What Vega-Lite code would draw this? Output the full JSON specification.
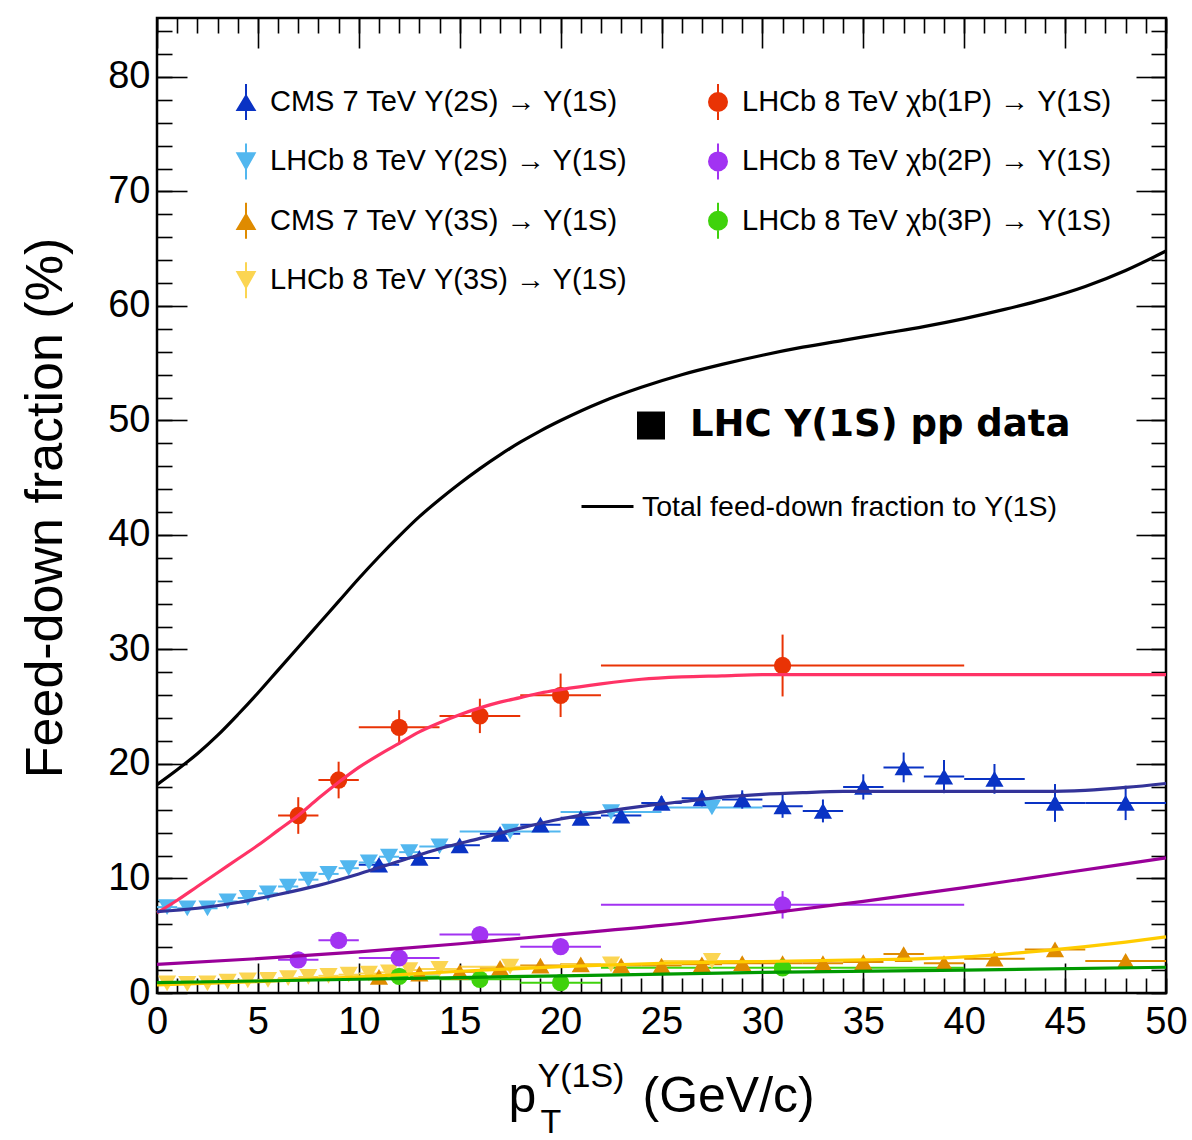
{
 "$schema": "https://vega.github.io/schema/vega-lite/v6.json",
 "width": 1009, "height": 975,
 "autosize": {"type": "none"},
 "padding": {"left": 157, "top": 18, "right": 26, "bottom": 147},
 "background": "white",
 "config": {
  "view": {"stroke": "black", "strokeWidth": 2.5},
  "axis": {"domain": false, "grid": false, "tickColor": "black", "tickWidth": 1.6, "labelColor": "black", "titleColor": "black", "labelFont": "Liberation Sans", "titleFont": "Liberation Sans", "labelFlush": false, "labelOverlap": false, "labelBound": false, "titleFontWeight": "normal"}
 },
 "datasets": {
  "pts": [
   {"s":"CMS 7 TeV Υ(2S) → Υ(1S)","pt":11,"f":11.2,"lo":10,"hi":12,"flo":10.8,"fhi":11.6},
   {"s":"CMS 7 TeV Υ(2S) → Υ(1S)","pt":13,"f":11.8,"lo":12,"hi":14,"flo":11.4,"fhi":12.2},
   {"s":"CMS 7 TeV Υ(2S) → Υ(1S)","pt":15,"f":12.9,"lo":14,"hi":16,"flo":12.5,"fhi":13.3},
   {"s":"CMS 7 TeV Υ(2S) → Υ(1S)","pt":17,"f":13.9,"lo":16,"hi":18,"flo":13.5,"fhi":14.3},
   {"s":"CMS 7 TeV Υ(2S) → Υ(1S)","pt":19,"f":14.7,"lo":18,"hi":20,"flo":14.2,"fhi":15.2},
   {"s":"CMS 7 TeV Υ(2S) → Υ(1S)","pt":21,"f":15.3,"lo":20,"hi":22,"flo":14.8,"fhi":15.8},
   {"s":"CMS 7 TeV Υ(2S) → Υ(1S)","pt":23,"f":15.5,"lo":22,"hi":24,"flo":14.9,"fhi":16.1},
   {"s":"CMS 7 TeV Υ(2S) → Υ(1S)","pt":25,"f":16.6,"lo":24,"hi":26,"flo":16.0,"fhi":17.2},
   {"s":"CMS 7 TeV Υ(2S) → Υ(1S)","pt":27,"f":17.0,"lo":26,"hi":28,"flo":16.3,"fhi":17.7},
   {"s":"CMS 7 TeV Υ(2S) → Υ(1S)","pt":29,"f":16.9,"lo":28,"hi":30,"flo":16.1,"fhi":17.7},
   {"s":"CMS 7 TeV Υ(2S) → Υ(1S)","pt":31,"f":16.3,"lo":30,"hi":32,"flo":15.3,"fhi":17.3},
   {"s":"CMS 7 TeV Υ(2S) → Υ(1S)","pt":33,"f":15.9,"lo":32,"hi":34,"flo":14.9,"fhi":16.9},
   {"s":"CMS 7 TeV Υ(2S) → Υ(1S)","pt":35,"f":18.0,"lo":34,"hi":36,"flo":16.9,"fhi":19.1},
   {"s":"CMS 7 TeV Υ(2S) → Υ(1S)","pt":37,"f":19.7,"lo":36,"hi":38,"flo":18.4,"fhi":21.0},
   {"s":"CMS 7 TeV Υ(2S) → Υ(1S)","pt":39,"f":18.9,"lo":38,"hi":40,"flo":17.45,"fhi":20.35},
   {"s":"CMS 7 TeV Υ(2S) → Υ(1S)","pt":41.5,"f":18.7,"lo":40,"hi":43,"flo":17.4,"fhi":20.0},
   {"s":"CMS 7 TeV Υ(2S) → Υ(1S)","pt":44.5,"f":16.6,"lo":43,"hi":46,"flo":14.95,"fhi":18.25},
   {"s":"CMS 7 TeV Υ(2S) → Υ(1S)","pt":48,"f":16.6,"lo":46,"hi":50,"flo":15.1,"fhi":18.1},
   {"s":"LHCb 8 TeV Υ(2S) → Υ(1S)","pt":0.5,"f":7.5,"lo":0,"hi":1,"flo":7.3,"fhi":7.7},
   {"s":"LHCb 8 TeV Υ(2S) → Υ(1S)","pt":1.5,"f":7.4,"lo":1,"hi":2,"flo":7.2,"fhi":7.6},
   {"s":"LHCb 8 TeV Υ(2S) → Υ(1S)","pt":2.5,"f":7.4,"lo":2,"hi":3,"flo":7.2,"fhi":7.6},
   {"s":"LHCb 8 TeV Υ(2S) → Υ(1S)","pt":3.5,"f":8.0,"lo":3,"hi":4,"flo":7.8,"fhi":8.2},
   {"s":"LHCb 8 TeV Υ(2S) → Υ(1S)","pt":4.5,"f":8.3,"lo":4,"hi":5,"flo":8.1,"fhi":8.5},
   {"s":"LHCb 8 TeV Υ(2S) → Υ(1S)","pt":5.5,"f":8.7,"lo":5,"hi":6,"flo":8.5,"fhi":8.9},
   {"s":"LHCb 8 TeV Υ(2S) → Υ(1S)","pt":6.5,"f":9.3,"lo":6,"hi":7,"flo":9.1,"fhi":9.5},
   {"s":"LHCb 8 TeV Υ(2S) → Υ(1S)","pt":7.5,"f":9.9,"lo":7,"hi":8,"flo":9.7,"fhi":10.1},
   {"s":"LHCb 8 TeV Υ(2S) → Υ(1S)","pt":8.5,"f":10.4,"lo":8,"hi":9,"flo":10.2,"fhi":10.6},
   {"s":"LHCb 8 TeV Υ(2S) → Υ(1S)","pt":9.5,"f":10.9,"lo":9,"hi":10,"flo":10.7,"fhi":11.1},
   {"s":"LHCb 8 TeV Υ(2S) → Υ(1S)","pt":10.5,"f":11.4,"lo":10,"hi":11,"flo":11.2,"fhi":11.6},
   {"s":"LHCb 8 TeV Υ(2S) → Υ(1S)","pt":11.5,"f":11.9,"lo":11,"hi":12,"flo":11.7,"fhi":12.1},
   {"s":"LHCb 8 TeV Υ(2S) → Υ(1S)","pt":12.5,"f":12.3,"lo":12,"hi":13,"flo":12.1,"fhi":12.5},
   {"s":"LHCb 8 TeV Υ(2S) → Υ(1S)","pt":14,"f":12.8,"lo":13,"hi":15,"flo":12.5,"fhi":13.1},
   {"s":"LHCb 8 TeV Υ(2S) → Υ(1S)","pt":17.5,"f":14.1,"lo":15,"hi":20,"flo":13.8,"fhi":14.4},
   {"s":"LHCb 8 TeV Υ(2S) → Υ(1S)","pt":22.5,"f":15.8,"lo":20,"hi":25,"flo":15.4,"fhi":16.2},
   {"s":"LHCb 8 TeV Υ(2S) → Υ(1S)","pt":27.5,"f":16.2,"lo":25,"hi":30,"flo":15.7,"fhi":16.7},
   {"s":"CMS 7 TeV Υ(3S) → Υ(1S)","pt":11,"f":1.4,"lo":10,"hi":12,"flo":1.2,"fhi":1.6},
   {"s":"CMS 7 TeV Υ(3S) → Υ(1S)","pt":13,"f":1.7,"lo":12,"hi":14,"flo":1.5,"fhi":1.9},
   {"s":"CMS 7 TeV Υ(3S) → Υ(1S)","pt":15,"f":1.85,"lo":14,"hi":16,"flo":1.65,"fhi":2.05},
   {"s":"CMS 7 TeV Υ(3S) → Υ(1S)","pt":17,"f":2.2,"lo":16,"hi":18,"flo":2.0,"fhi":2.4},
   {"s":"CMS 7 TeV Υ(3S) → Υ(1S)","pt":19,"f":2.4,"lo":18,"hi":20,"flo":2.2,"fhi":2.6},
   {"s":"CMS 7 TeV Υ(3S) → Υ(1S)","pt":21,"f":2.5,"lo":20,"hi":22,"flo":2.3,"fhi":2.7},
   {"s":"CMS 7 TeV Υ(3S) → Υ(1S)","pt":23,"f":2.4,"lo":22,"hi":24,"flo":2.1,"fhi":2.7},
   {"s":"CMS 7 TeV Υ(3S) → Υ(1S)","pt":25,"f":2.4,"lo":24,"hi":26,"flo":2.1,"fhi":2.7},
   {"s":"CMS 7 TeV Υ(3S) → Υ(1S)","pt":27,"f":2.5,"lo":26,"hi":28,"flo":2.2,"fhi":2.8},
   {"s":"CMS 7 TeV Υ(3S) → Υ(1S)","pt":29,"f":2.6,"lo":28,"hi":30,"flo":2.3,"fhi":2.9},
   {"s":"CMS 7 TeV Υ(3S) → Υ(1S)","pt":31,"f":2.6,"lo":30,"hi":32,"flo":2.3,"fhi":2.9},
   {"s":"CMS 7 TeV Υ(3S) → Υ(1S)","pt":33,"f":2.6,"lo":32,"hi":34,"flo":2.3,"fhi":2.9},
   {"s":"CMS 7 TeV Υ(3S) → Υ(1S)","pt":35,"f":2.7,"lo":34,"hi":36,"flo":2.4,"fhi":3.0},
   {"s":"CMS 7 TeV Υ(3S) → Υ(1S)","pt":37,"f":3.4,"lo":36,"hi":38,"flo":3.0,"fhi":3.8},
   {"s":"CMS 7 TeV Υ(3S) → Υ(1S)","pt":39,"f":2.6,"lo":38,"hi":40,"flo":2.2,"fhi":3.0},
   {"s":"CMS 7 TeV Υ(3S) → Υ(1S)","pt":41.5,"f":3.0,"lo":40,"hi":43,"flo":2.6,"fhi":3.4},
   {"s":"CMS 7 TeV Υ(3S) → Υ(1S)","pt":44.5,"f":3.8,"lo":43,"hi":46,"flo":3.3,"fhi":4.3},
   {"s":"CMS 7 TeV Υ(3S) → Υ(1S)","pt":48,"f":2.8,"lo":46,"hi":50,"flo":2.3,"fhi":3.3},
   {"s":"LHCb 8 TeV Υ(3S) → Υ(1S)","pt":0.5,"f":0.85,"lo":0,"hi":1,"flo":0.7,"fhi":1.0},
   {"s":"LHCb 8 TeV Υ(3S) → Υ(1S)","pt":1.5,"f":0.8,"lo":1,"hi":2,"flo":0.65,"fhi":0.95},
   {"s":"LHCb 8 TeV Υ(3S) → Υ(1S)","pt":2.5,"f":0.85,"lo":2,"hi":3,"flo":0.7,"fhi":1.0},
   {"s":"LHCb 8 TeV Υ(3S) → Υ(1S)","pt":3.5,"f":1.0,"lo":3,"hi":4,"flo":0.85,"fhi":1.15},
   {"s":"LHCb 8 TeV Υ(3S) → Υ(1S)","pt":4.5,"f":1.1,"lo":4,"hi":5,"flo":0.95,"fhi":1.25},
   {"s":"LHCb 8 TeV Υ(3S) → Υ(1S)","pt":5.5,"f":1.15,"lo":5,"hi":6,"flo":1.0,"fhi":1.3},
   {"s":"LHCb 8 TeV Υ(3S) → Υ(1S)","pt":6.5,"f":1.3,"lo":6,"hi":7,"flo":1.15,"fhi":1.45},
   {"s":"LHCb 8 TeV Υ(3S) → Υ(1S)","pt":7.5,"f":1.4,"lo":7,"hi":8,"flo":1.25,"fhi":1.55},
   {"s":"LHCb 8 TeV Υ(3S) → Υ(1S)","pt":8.5,"f":1.5,"lo":8,"hi":9,"flo":1.35,"fhi":1.65},
   {"s":"LHCb 8 TeV Υ(3S) → Υ(1S)","pt":9.5,"f":1.6,"lo":9,"hi":10,"flo":1.45,"fhi":1.75},
   {"s":"LHCb 8 TeV Υ(3S) → Υ(1S)","pt":10.5,"f":1.7,"lo":10,"hi":11,"flo":1.55,"fhi":1.85},
   {"s":"LHCb 8 TeV Υ(3S) → Υ(1S)","pt":11.5,"f":1.8,"lo":11,"hi":12,"flo":1.65,"fhi":1.95},
   {"s":"LHCb 8 TeV Υ(3S) → Υ(1S)","pt":12.5,"f":2.0,"lo":12,"hi":13,"flo":1.85,"fhi":2.15},
   {"s":"LHCb 8 TeV Υ(3S) → Υ(1S)","pt":14,"f":2.1,"lo":13,"hi":15,"flo":1.95,"fhi":2.25},
   {"s":"LHCb 8 TeV Υ(3S) → Υ(1S)","pt":17.5,"f":2.3,"lo":15,"hi":20,"flo":2.1,"fhi":2.5},
   {"s":"LHCb 8 TeV Υ(3S) → Υ(1S)","pt":22.5,"f":2.5,"lo":20,"hi":25,"flo":2.3,"fhi":2.7},
   {"s":"LHCb 8 TeV Υ(3S) → Υ(1S)","pt":27.5,"f":2.8,"lo":25,"hi":30,"flo":2.5,"fhi":3.1},
   {"s":"LHCb 8 TeV χb(1P) → Υ(1S)","pt":7,"f":15.5,"lo":6,"hi":8,"flo":13.9,"fhi":17.1},
   {"s":"LHCb 8 TeV χb(1P) → Υ(1S)","pt":9,"f":18.6,"lo":8,"hi":10,"flo":17.0,"fhi":20.2},
   {"s":"LHCb 8 TeV χb(1P) → Υ(1S)","pt":12,"f":23.2,"lo":10,"hi":14,"flo":21.7,"fhi":24.7},
   {"s":"LHCb 8 TeV χb(1P) → Υ(1S)","pt":16,"f":24.2,"lo":14,"hi":18,"flo":22.7,"fhi":25.7},
   {"s":"LHCb 8 TeV χb(1P) → Υ(1S)","pt":20,"f":26.0,"lo":18,"hi":22,"flo":24.1,"fhi":27.9},
   {"s":"LHCb 8 TeV χb(1P) → Υ(1S)","pt":31,"f":28.6,"lo":22,"hi":40,"flo":25.9,"fhi":31.3},
   {"s":"LHCb 8 TeV χb(2P) → Υ(1S)","pt":7,"f":2.9,"lo":6,"hi":8,"flo":2.5,"fhi":3.3},
   {"s":"LHCb 8 TeV χb(2P) → Υ(1S)","pt":9,"f":4.6,"lo":8,"hi":10,"flo":4.2,"fhi":5.0},
   {"s":"LHCb 8 TeV χb(2P) → Υ(1S)","pt":12,"f":3.06,"lo":10,"hi":14,"flo":2.66,"fhi":3.46},
   {"s":"LHCb 8 TeV χb(2P) → Υ(1S)","pt":16,"f":5.1,"lo":14,"hi":18,"flo":4.6,"fhi":5.6},
   {"s":"LHCb 8 TeV χb(2P) → Υ(1S)","pt":20,"f":4.05,"lo":18,"hi":22,"flo":3.55,"fhi":4.55},
   {"s":"LHCb 8 TeV χb(2P) → Υ(1S)","pt":31,"f":7.7,"lo":22,"hi":40,"flo":6.5,"fhi":8.9},
   {"s":"LHCb 8 TeV χb(3P) → Υ(1S)","pt":12,"f":1.45,"lo":10,"hi":14,"flo":1.15,"fhi":1.75},
   {"s":"LHCb 8 TeV χb(3P) → Υ(1S)","pt":16,"f":1.2,"lo":14,"hi":18,"flo":0.9,"fhi":1.5},
   {"s":"LHCb 8 TeV χb(3P) → Υ(1S)","pt":20,"f":0.9,"lo":18,"hi":22,"flo":0.6,"fhi":1.2},
   {"s":"LHCb 8 TeV χb(3P) → Υ(1S)","pt":31,"f":2.2,"lo":22,"hi":40,"flo":1.7,"fhi":2.7}
  ],
  "curves": [
   {"curve":"Total feed-down fraction to Υ(1S)","pt":0,"frac":18.2},
   {"curve":"Total feed-down fraction to Υ(1S)","pt":1,"frac":19.5},
   {"curve":"Total feed-down fraction to Υ(1S)","pt":2,"frac":20.9},
   {"curve":"Total feed-down fraction to Υ(1S)","pt":3,"frac":22.5},
   {"curve":"Total feed-down fraction to Υ(1S)","pt":4,"frac":24.3},
   {"curve":"Total feed-down fraction to Υ(1S)","pt":5,"frac":26.2},
   {"curve":"Total feed-down fraction to Υ(1S)","pt":6,"frac":28.2},
   {"curve":"Total feed-down fraction to Υ(1S)","pt":7,"frac":30.2},
   {"curve":"Total feed-down fraction to Υ(1S)","pt":8,"frac":32.2},
   {"curve":"Total feed-down fraction to Υ(1S)","pt":9,"frac":34.2},
   {"curve":"Total feed-down fraction to Υ(1S)","pt":10,"frac":36.2},
   {"curve":"Total feed-down fraction to Υ(1S)","pt":11,"frac":38.1},
   {"curve":"Total feed-down fraction to Υ(1S)","pt":12,"frac":39.9},
   {"curve":"Total feed-down fraction to Υ(1S)","pt":13,"frac":41.6},
   {"curve":"Total feed-down fraction to Υ(1S)","pt":14,"frac":43.1},
   {"curve":"Total feed-down fraction to Υ(1S)","pt":15,"frac":44.5},
   {"curve":"Total feed-down fraction to Υ(1S)","pt":16,"frac":45.8},
   {"curve":"Total feed-down fraction to Υ(1S)","pt":17,"frac":47.0},
   {"curve":"Total feed-down fraction to Υ(1S)","pt":18,"frac":48.1},
   {"curve":"Total feed-down fraction to Υ(1S)","pt":19,"frac":49.1},
   {"curve":"Total feed-down fraction to Υ(1S)","pt":20,"frac":50.0},
   {"curve":"Total feed-down fraction to Υ(1S)","pt":22,"frac":51.6},
   {"curve":"Total feed-down fraction to Υ(1S)","pt":24,"frac":52.9},
   {"curve":"Total feed-down fraction to Υ(1S)","pt":26,"frac":54.0},
   {"curve":"Total feed-down fraction to Υ(1S)","pt":28,"frac":54.9},
   {"curve":"Total feed-down fraction to Υ(1S)","pt":30,"frac":55.7},
   {"curve":"Total feed-down fraction to Υ(1S)","pt":32,"frac":56.4},
   {"curve":"Total feed-down fraction to Υ(1S)","pt":34,"frac":57.0},
   {"curve":"Total feed-down fraction to Υ(1S)","pt":36,"frac":57.6},
   {"curve":"Total feed-down fraction to Υ(1S)","pt":38,"frac":58.2},
   {"curve":"Total feed-down fraction to Υ(1S)","pt":40,"frac":58.9},
   {"curve":"Total feed-down fraction to Υ(1S)","pt":42,"frac":59.7},
   {"curve":"Total feed-down fraction to Υ(1S)","pt":44,"frac":60.6},
   {"curve":"Total feed-down fraction to Υ(1S)","pt":46,"frac":61.7},
   {"curve":"Total feed-down fraction to Υ(1S)","pt":48,"frac":63.1},
   {"curve":"Total feed-down fraction to Υ(1S)","pt":50,"frac":64.8},
   {"curve":"χb(1P) fit","pt":0,"frac":7.0},
   {"curve":"χb(1P) fit","pt":1,"frac":8.1},
   {"curve":"χb(1P) fit","pt":2,"frac":9.3},
   {"curve":"χb(1P) fit","pt":3,"frac":10.5},
   {"curve":"χb(1P) fit","pt":4,"frac":11.7},
   {"curve":"χb(1P) fit","pt":5,"frac":12.9},
   {"curve":"χb(1P) fit","pt":6,"frac":14.2},
   {"curve":"χb(1P) fit","pt":7,"frac":15.5},
   {"curve":"χb(1P) fit","pt":8,"frac":17.0},
   {"curve":"χb(1P) fit","pt":9,"frac":18.4},
   {"curve":"χb(1P) fit","pt":10,"frac":19.7},
   {"curve":"χb(1P) fit","pt":11,"frac":20.8},
   {"curve":"χb(1P) fit","pt":12,"frac":21.8},
   {"curve":"χb(1P) fit","pt":13,"frac":22.8},
   {"curve":"χb(1P) fit","pt":14,"frac":23.6},
   {"curve":"χb(1P) fit","pt":15,"frac":24.3},
   {"curve":"χb(1P) fit","pt":16,"frac":24.9},
   {"curve":"χb(1P) fit","pt":17,"frac":25.4},
   {"curve":"χb(1P) fit","pt":18,"frac":25.8},
   {"curve":"χb(1P) fit","pt":19,"frac":26.2},
   {"curve":"χb(1P) fit","pt":20,"frac":26.5},
   {"curve":"χb(1P) fit","pt":22,"frac":27.0},
   {"curve":"χb(1P) fit","pt":24,"frac":27.4},
   {"curve":"χb(1P) fit","pt":26,"frac":27.6},
   {"curve":"χb(1P) fit","pt":28,"frac":27.7},
   {"curve":"χb(1P) fit","pt":30,"frac":27.8},
   {"curve":"χb(1P) fit","pt":40,"frac":27.8},
   {"curve":"χb(1P) fit","pt":50,"frac":27.8},
   {"curve":"Υ(2S) fit","pt":0,"frac":7.1},
   {"curve":"Υ(2S) fit","pt":2,"frac":7.4},
   {"curve":"Υ(2S) fit","pt":4,"frac":7.9},
   {"curve":"Υ(2S) fit","pt":6,"frac":8.6},
   {"curve":"Υ(2S) fit","pt":8,"frac":9.4},
   {"curve":"Υ(2S) fit","pt":10,"frac":10.4},
   {"curve":"Υ(2S) fit","pt":12,"frac":11.5},
   {"curve":"Υ(2S) fit","pt":14,"frac":12.6},
   {"curve":"Υ(2S) fit","pt":16,"frac":13.5},
   {"curve":"Υ(2S) fit","pt":18,"frac":14.4},
   {"curve":"Υ(2S) fit","pt":20,"frac":15.2},
   {"curve":"Υ(2S) fit","pt":22,"frac":15.8},
   {"curve":"Υ(2S) fit","pt":24,"frac":16.3},
   {"curve":"Υ(2S) fit","pt":26,"frac":16.7},
   {"curve":"Υ(2S) fit","pt":28,"frac":17.1},
   {"curve":"Υ(2S) fit","pt":30,"frac":17.35},
   {"curve":"Υ(2S) fit","pt":32,"frac":17.5},
   {"curve":"Υ(2S) fit","pt":34,"frac":17.6},
   {"curve":"Υ(2S) fit","pt":38,"frac":17.6},
   {"curve":"Υ(2S) fit","pt":42,"frac":17.6},
   {"curve":"Υ(2S) fit","pt":44,"frac":17.6},
   {"curve":"Υ(2S) fit","pt":46,"frac":17.7},
   {"curve":"Υ(2S) fit","pt":48,"frac":17.95},
   {"curve":"Υ(2S) fit","pt":50,"frac":18.3},
   {"curve":"χb(2P) fit","pt":0,"frac":2.5},
   {"curve":"χb(2P) fit","pt":5,"frac":3.0},
   {"curve":"χb(2P) fit","pt":10,"frac":3.6},
   {"curve":"χb(2P) fit","pt":15,"frac":4.3},
   {"curve":"χb(2P) fit","pt":20,"frac":5.1},
   {"curve":"χb(2P) fit","pt":25,"frac":5.9},
   {"curve":"χb(2P) fit","pt":30,"frac":6.9},
   {"curve":"χb(2P) fit","pt":35,"frac":8.0},
   {"curve":"χb(2P) fit","pt":40,"frac":9.2},
   {"curve":"χb(2P) fit","pt":45,"frac":10.5},
   {"curve":"χb(2P) fit","pt":50,"frac":11.8},
   {"curve":"Υ(3S) fit","pt":0,"frac":0.7},
   {"curve":"Υ(3S) fit","pt":5,"frac":1.0},
   {"curve":"Υ(3S) fit","pt":10,"frac":1.4},
   {"curve":"Υ(3S) fit","pt":15,"frac":1.9},
   {"curve":"Υ(3S) fit","pt":20,"frac":2.3},
   {"curve":"Υ(3S) fit","pt":25,"frac":2.6},
   {"curve":"Υ(3S) fit","pt":30,"frac":2.75},
   {"curve":"Υ(3S) fit","pt":35,"frac":2.9},
   {"curve":"Υ(3S) fit","pt":38,"frac":3.0},
   {"curve":"Υ(3S) fit","pt":40,"frac":3.15},
   {"curve":"Υ(3S) fit","pt":42,"frac":3.4},
   {"curve":"Υ(3S) fit","pt":44,"frac":3.7},
   {"curve":"Υ(3S) fit","pt":46,"frac":4.05},
   {"curve":"Υ(3S) fit","pt":48,"frac":4.45},
   {"curve":"Υ(3S) fit","pt":50,"frac":4.9},
   {"curve":"χb(3P) fit","pt":0,"frac":0.9},
   {"curve":"χb(3P) fit","pt":10,"frac":1.2},
   {"curve":"χb(3P) fit","pt":20,"frac":1.5},
   {"curve":"χb(3P) fit","pt":30,"frac":1.8},
   {"curve":"χb(3P) fit","pt":40,"frac":2.0},
   {"curve":"χb(3P) fit","pt":50,"frac":2.25}
  ]
 },
 "resolve": {"axis": {"x": "independent", "y": "independent"}},
 "layer": [
  {
   "data": {"name": "pts"},
   "mark": {"type": "rule", "strokeWidth": 2},
   "encoding": {
    "x": {"field": "lo", "type": "quantitative", "scale": {"domain": [0, 50], "nice": false, "zero": false},
     "axis": {"orient": "bottom", "values": [0,5,10,15,20,25,30,35,40,45,50], "ticks": false, "labelFontSize": 38, "labelPadding": 10, "title": "p", "titleFontSize": 50, "titleX": 365, "titleY": 118, "titleAlign": "center", "titleBaseline": "alphabetic"}},
    "x2": {"field": "hi"},
    "y": {"field": "f", "type": "quantitative", "scale": {"domain": [0, 85.15], "nice": false},
     "axis": {"orient": "left", "values": [0,10,20,30,40,50,60,70,80], "ticks": false, "labelFontSize": 38, "labelPadding": 7, "title": "Feed-down fraction (%)", "titleFontSize": 52, "titleX": -96, "titleY": 489.5, "titleAngle": 270, "titleAlign": "center", "titleBaseline": "alphabetic"}},
    "color": {"field": "s", "type": "nominal",
     "scale": {
      "domain": ["CMS 7 TeV Υ(2S) → Υ(1S)", "LHCb 8 TeV Υ(2S) → Υ(1S)", "CMS 7 TeV Υ(3S) → Υ(1S)", "LHCb 8 TeV Υ(3S) → Υ(1S)", "LHCb 8 TeV χb(1P) → Υ(1S)", "LHCb 8 TeV χb(2P) → Υ(1S)", "LHCb 8 TeV χb(3P) → Υ(1S)"],
      "range": ["#0a33c4", "#52b7ef", "#df8b00", "#fbd552", "#e93305", "#a233f2", "#3fd20c"]},
     "legend": {
      "title": null, "orient": "none", "legendX": 70, "legendY": 65, "columns": 2, "direction": "vertical",
      "columnPadding": 71, "rowPadding": 15.4, "symbolSize": 1296, "padding": 0,
      "labelFont": "Liberation Sans", "labelFontSize": 29, "labelColor": "black", "labelLimit": 700, "labelOffset": 5,
      "encode": {"symbols": {"update": {
       "shape": {"signal": "indexof(datum.value, 'CMS') == 0 ? 'M0,-1L0,1M-0.48,0.45L0.48,0.45L0,-0.35Z' : (indexof(datum.value, 'χ') >= 0 ? 'M0,-1L0,1M-0.5,0A0.5,0.5,0,1,0,0.5,0A0.5,0.5,0,1,0,-0.5,0Z' : 'M0,-1L0,1M-0.48,-0.45L0.48,-0.45L0,0.4Z')"},
       "fill": {"scale": "color", "field": "value"},
       "stroke": {"scale": "color", "field": "value"},
       "strokeWidth": {"value": 2},
       "opacity": {"value": 1},
       "size": {"value": 1296}}}}
     }}
   }
  },
  {
   "data": {"name": "pts"},
   "mark": {"type": "rule", "strokeWidth": 2},
   "encoding": {
    "x": {"field": "pt", "type": "quantitative",
     "axis": {"orient": "bottom", "values": [0,5,10,15,20,25,30,35,40,45,50], "labels": false, "tickSize": -30, "title": "(GeV/c)", "titleFontSize": 50, "titleX": 485, "titleY": 118, "titleAlign": "left", "titleBaseline": "alphabetic"}},
    "y": {"field": "flo", "type": "quantitative",
     "axis": {"orient": "left", "values": [0,10,20,30,40,50,60,70,80], "labels": false, "tickSize": -30, "title": null}},
    "y2": {"field": "fhi"},
    "color": {"field": "s", "type": "nominal"}
   }
  },
  {
   "data": {"name": "pts"},
   "transform": [{"filter": "indexof(datum.s, 'CMS') == 0"}],
   "mark": {"type": "point", "shape": "triangle-up", "filled": true, "opacity": 1, "size": 330},
   "encoding": {
    "x": {"field": "pt", "type": "quantitative",
     "axis": {"orient": "bottom", "values": [0,1,2,3,4,5,6,7,8,9,10,11,12,13,14,15,16,17,18,19,20,21,22,23,24,25,26,27,28,29,30,31,32,33,34,35,36,37,38,39,40,41,42,43,44,45,46,47,48,49,50], "labels": false, "tickSize": -15, "title": "T", "titleFontSize": 34, "titleX": 383, "titleY": 139, "titleAlign": "left", "titleBaseline": "alphabetic"}},
    "y": {"field": "f", "type": "quantitative",
     "axis": {"orient": "left", "values": [0,2,4,6,8,10,12,14,16,18,20,22,24,26,28,30,32,34,36,38,40,42,44,46,48,50,52,54,56,58,60,62,64,66,68,70,72,74,76,78,80,82,84], "labels": false, "tickSize": -15, "title": null}},
    "color": {"field": "s", "type": "nominal"}
   }
  },
  {
   "data": {"name": "pts"},
   "transform": [{"filter": "indexof(datum.s, 'LHCb 8 TeV Υ') == 0"}],
   "mark": {"type": "point", "shape": "triangle-down", "filled": true, "opacity": 1, "size": 330},
   "encoding": {
    "x": {"field": "pt", "type": "quantitative", "axis": null},
    "y": {"field": "f", "type": "quantitative", "axis": null},
    "color": {"field": "s", "type": "nominal"}
   }
  },
  {
   "data": {"name": "pts"},
   "transform": [{"filter": "indexof(datum.s, 'χ') >= 0"}],
   "mark": {"type": "point", "shape": "circle", "filled": true, "opacity": 1, "size": 300},
   "encoding": {
    "x": {"field": "pt", "type": "quantitative", "axis": null},
    "y": {"field": "f", "type": "quantitative", "axis": null},
    "color": {"field": "s", "type": "nominal"}
   }
  },
  {
   "data": {"name": "curves"},
   "mark": {"type": "line", "strokeWidth": 3.2, "interpolate": "monotone"},
   "encoding": {
    "x": {"field": "pt", "type": "quantitative",
     "axis": {"orient": "top", "values": [0,5,10,15,20,25,30,35,40,45,50], "labels": false, "tickSize": -30, "title": "Υ(1S)", "titleFontSize": 34, "titleX": 380, "titleY": 1068, "titleAlign": "left", "titleBaseline": "alphabetic"}},
    "y": {"field": "frac", "type": "quantitative",
     "axis": {"orient": "right", "values": [0,10,20,30,40,50,60,70,80], "labels": false, "tickSize": -30, "title": null}},
    "stroke": {"field": "curve", "type": "nominal",
     "scale": {"domain": ["Total feed-down fraction to Υ(1S)", "χb(1P) fit", "Υ(2S) fit", "χb(2P) fit", "Υ(3S) fit", "χb(3P) fit"],
      "range": ["#000000", "#ff3366", "#333399", "#990099", "#ffcc00", "#009900"]},
     "legend": {"values": ["Total feed-down fraction to Υ(1S)"], "title": null, "orient": "none", "legendX": 423, "legendY": 461,
      "symbolType": "stroke", "symbolSize": 2704, "symbolStrokeWidth": 3, "padding": 0,
      "labelFont": "Liberation Sans", "labelFontSize": 28.5, "labelColor": "black", "labelLimit": 700, "labelOffset": 7}}
   }
  },
  {
   "data": {"values": [{}]},
   "mark": {"type": "text", "align": "left", "baseline": "middle", "font": "DejaVu Sans", "fontWeight": "bold", "fontSize": 37, "color": "black"},
   "encoding": {
    "x": {"datum": 26.41, "type": "quantitative",
     "axis": {"orient": "top", "values": [0,1,2,3,4,5,6,7,8,9,10,11,12,13,14,15,16,17,18,19,20,21,22,23,24,25,26,27,28,29,30,31,32,33,34,35,36,37,38,39,40,41,42,43,44,45,46,47,48,49,50], "labels": false, "tickSize": -15, "title": null}},
    "y": {"datum": 49.6, "type": "quantitative",
     "axis": {"orient": "right", "values": [0,2,4,6,8,10,12,14,16,18,20,22,24,26,28,30,32,34,36,38,40,42,44,46,48,50,52,54,56,58,60,62,64,66,68,70,72,74,76,78,80,82,84], "labels": false, "tickSize": -15, "title": null}},
    "text": {"value": "LHC Υ(1S) pp data"}
   }
  },
  {
   "data": {"values": [{}]},
   "mark": {"type": "point", "shape": "square", "filled": true, "opacity": 1, "size": 784, "color": "black"},
   "encoding": {
    "x": {"datum": 24.48, "type": "quantitative", "axis": null},
    "y": {"datum": 49.56, "type": "quantitative", "axis": null}
   }
  }
 ]
}
